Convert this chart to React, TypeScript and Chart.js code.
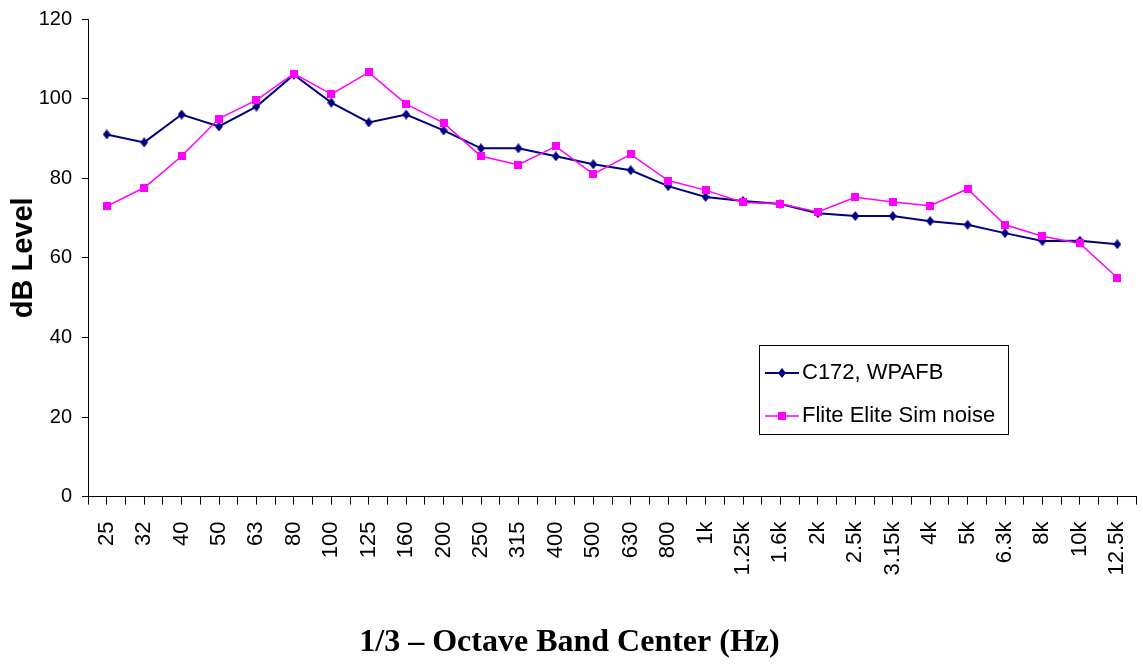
import React, { useEffect, useRef } from 'react';
import { Chart, registerables } from 'chart.js';

Chart.register(...registerables);

const bands = ['25', '32', '40', '50', '63', '80', '100', '125', '160', '200', '250', '315', '400', '500', '630', '800', '1k', '1.25k', '1.6k', '2k', '2.5k', '3.15k', '4k', '5k', '6.3k', '8k', '10k', '12.5k'];
const c172 = [91, 89, 96, 93, 98, 106, 99, 94, 96, 92, 87.5, 87.5, 85.5, 83.5, 82, 78, 75.3, 74.3, 73.5, 71.2, 70.5, 70.5, 69.2, 68.3, 66.2, 64.2, 64.3, 63.4];
const fliteElite = [73, 77.6, 85.5, 95, 99.6, 106.3, 101.1, 106.6, 98.6, 93.9, 85.5, 83.4, 88, 81, 86, 79.4, 77, 73.9, 73.6, 71.5, 75.2, 74, 73.1, 77.3, 68.3, 65.4, 63.6, 55];
const seriesNames = ['C172, WPAFB', 'Flite Elite Sim noise'];
const yMin = 0;
const yMax = 120;
const yStep = 20;
const xTitle = '1/3 \u2013 Octave Band Center (Hz)';
const yTitle = 'dB Level';

const NAVY = '#000080';
const MAGENTA = '#FF00FF';
const SANS = '"Liberation Sans", Arial, sans-serif';
const SERIF = '"Liberation Serif", "Times New Roman", serif';

function markerCanvas(kind: 'diamond' | 'square', color: string, lineW = 0, lineWidth = 0) {
  const mw = 8;
  const mh = kind === 'diamond' ? 10 : 8;
  const w = Math.max(mw, lineW);
  const h = mh;
  const c = document.createElement('canvas');
  c.width = w;
  c.height = h;
  const ctx = c.getContext('2d')!;
  if (lineW > 0) {
    ctx.strokeStyle = color;
    ctx.lineWidth = lineWidth;
    ctx.beginPath();
    ctx.moveTo(0, h / 2);
    ctx.lineTo(w, h / 2);
    ctx.stroke();
  }
  ctx.fillStyle = color;
  const cx = w / 2;
  const cy = h / 2;
  ctx.beginPath();
  if (kind === 'diamond') {
    ctx.moveTo(cx, cy - mh / 2);
    ctx.lineTo(cx + mw / 2, cy);
    ctx.lineTo(cx, cy + mh / 2);
    ctx.lineTo(cx - mw / 2, cy);
    ctx.closePath();
  } else {
    ctx.rect(cx - mw / 2, cy - mh / 2, mw, mh);
  }
  ctx.fill();
  return c;
}

export default function App() {
  const ref = useRef<HTMLCanvasElement | null>(null);

  useEffect(() => {
    if (!ref.current) return;
    const diamond = markerCanvas('diamond', NAVY);
    const square = markerCanvas('square', MAGENTA);
    const legendDiamond = markerCanvas('diamond', NAVY, 34, 2);
    const legendSquare = markerCanvas('square', MAGENTA, 34, 1.5);

    const legendBox = { x: 759, y: 345, w: 249, h: 89 };

    const legendPlacer = {
      id: 'legendPlacer',
      afterLayout(chart: any) {
        const lg = chart.legend;
        if (!lg) return;
        lg.left = 752;
        lg.top = 341;
        lg.width = 380;
        lg.height = 140;
        lg.right = lg.left + lg.width;
        lg.bottom = lg.top + lg.height;
        if (lg.adjustHitBoxes) lg.adjustHitBoxes();
      },
      beforeDatasetsDraw(chart: any) {
        const ctx = chart.ctx;
        ctx.save();
        ctx.strokeStyle = '#000';
        ctx.lineWidth = 1;
        ctx.strokeRect(legendBox.x + 0.5, legendBox.y + 0.5, legendBox.w, legendBox.h);
        ctx.restore();
      },
    };

    const chart = new Chart(ref.current, {
      type: 'line',
      data: {
        datasets: [
          {
            label: seriesNames[0],
            data: c172.map((v, i) => ({ x: i, y: v })),
            borderColor: NAVY,
            backgroundColor: NAVY,
            borderWidth: 2,
            pointStyle: diamond as any,
            pointRadius: 5,
            tension: 0,
            fill: false,
            order: 1,
          },
          {
            label: seriesNames[1],
            data: fliteElite.map((v, i) => ({ x: i, y: v })),
            borderColor: MAGENTA,
            backgroundColor: MAGENTA,
            borderWidth: 1.5,
            pointStyle: square as any,
            pointRadius: 5,
            tension: 0,
            fill: false,
            order: 0,
          },
        ],
      },
      options: {
        animation: false,
        responsive: false,
        devicePixelRatio: 1,
        events: [],
        layout: { padding: { top: 19, right: 4, left: 0, bottom: 0 } },
        plugins: {
          tooltip: { enabled: false },
          title: {
            display: true,
            text: xTitle,
            position: 'bottom',
            color: '#000',
            font: { family: SERIF, size: 32, weight: 'bold' },
            padding: { top: 0, bottom: 2 },
          },
          legend: {
            display: true,
            position: 'chartArea' as any,
            align: 'start',
            labels: {
              usePointStyle: true,
              pointStyleWidth: 18,
              padding: 21,
              color: '#000',
              font: { family: SANS, size: 22 },
              generateLabels: () => [
                { text: seriesNames[0], fillStyle: NAVY, strokeStyle: NAVY, lineWidth: 0, pointStyle: legendDiamond as any, datasetIndex: 0, hidden: false },
                { text: seriesNames[1], fillStyle: MAGENTA, strokeStyle: MAGENTA, lineWidth: 0, pointStyle: legendSquare as any, datasetIndex: 1, hidden: false },
              ] as any,
            },
          },
        },
        scales: {
          x: {
            type: 'linear',
            min: -0.5,
            max: bands.length - 0.5,
            ticks: {
              stepSize: 0.5,
              autoSkip: false,
              minRotation: 90,
              maxRotation: 90,
              padding: 17,
              color: '#000',
              font: { family: SANS, size: 22 },
              callback: (v: any) => (Number.isInteger(v) && v >= 0 && v < bands.length ? bands[v] : ''),
            },
            grid: { drawOnChartArea: false, drawTicks: true, tickLength: 8, color: '#000', lineWidth: 1 },
            border: { color: '#000', width: 1 },
            afterFit: (s: any) => {
              s.height = 127;
              s.paddingLeft = 0;
              s.paddingRight = 0;
            },
          },
          y: {
            min: yMin,
            max: yMax,
            ticks: {
              stepSize: yStep,
              padding: 10,
              color: '#000',
              font: { family: SANS, size: 20 },
            },
            grid: { drawOnChartArea: false, drawTicks: true, tickLength: 6, color: '#000', lineWidth: 1 },
            border: { color: '#000', width: 1 },
            title: {
              display: true,
              text: yTitle,
              color: '#000',
              font: { family: SANS, size: 29, weight: 'bold' },
              padding: { top: 7, bottom: 0 },
            },
            afterFit: (s: any) => {
              s.width = 88;
              s.paddingTop = 0;
              s.paddingBottom = 0;
            },
          },
        },
      } as any,
      plugins: [legendPlacer],
    });

    return () => chart.destroy();
  }, []);

  return (
    <div style={{ position: 'fixed', left: 0, top: 0, width: 1143, height: 664, background: '#fff' }}>
      <canvas ref={ref} width={1143} height={664} style={{ display: 'block' }} />
    </div>
  );
}
